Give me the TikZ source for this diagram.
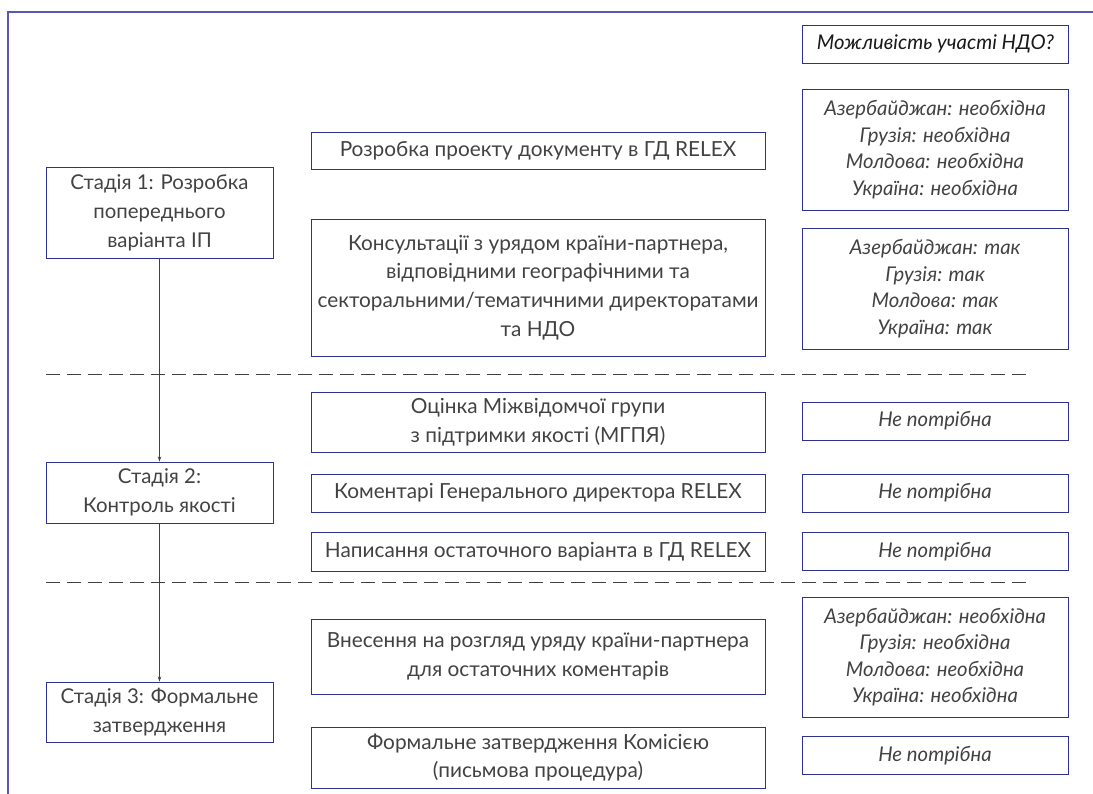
\documentclass[tikz,border=0pt]{standalone}
\usepackage{fontspec}
\setmainfont{Lato}
\usetikzlibrary{arrows.meta,positioning}
\definecolor{boxblue}{RGB}{46,49,146}
\definecolor{framelilac}{RGB}{88,88,178}
\definecolor{textgray}{RGB}{66,66,66}
\definecolor{linegray}{RGB}{64,64,64}

\begin{document}
\begin{tikzpicture}[x=1pt, y=-1pt,
  stagebox/.style={draw=boxblue, line width=0.9pt, inner sep=0pt, minimum width=227, align=center, text=textgray, font=\fontsize{20.4}{29}\selectfont},
  stepbox/.style={draw=boxblue, line width=0.9pt, inner sep=0pt, minimum width=454, align=center, text=textgray, font=\fontsize{20.8}{28.8}\selectfont},
  ngobox/.style={draw=boxblue, line width=0.9pt, inner sep=0pt, minimum width=266, align=center, text=textgray, font=\fontsize{20.3}{26.5}\selectfont\itshape},
  flow/.style={-{Stealth[length=5pt, width=3.5pt]}, line width=0.8pt, draw=linegray},
  stagesep/.style={dashed, dash pattern=on 14pt off 7pt, line width=0.9pt, draw=linegray}]
  \useasboundingbox (0,0) rectangle (1093,794);

  % Frame: top and left edges only
  \draw[framelilac, line width=1.2pt] (8,794) -- (8,12) -- (1093,12);

  % Stages (left column)
  \node (st1) at (159.5, 212.5) [stagebox, minimum height=91] {Стадія 1: Розробка\\попереднього\\варіанта ІП};
  \node (st2) at (159.5, 492.5) [stagebox, minimum height=61] {Стадія 2:\\Контроль якості};
  \node (st3) at (159.5, 712) [stagebox, minimum height=60] {Стадія 3: Формальне\\затвердження};

  \draw[flow] (st1) -- (st2);
  \draw[flow] (st2) -- (st3);

  % Steps (middle column)
  \node (mid1) at (538, 150.5) [stepbox, minimum height=37] {Розробка проекту документу в ГД RELEX};
  \node (mid2) at (538, 287.5) [stepbox, minimum height=137] {Консультації з урядом країни-партнера,\\відповідними географічними та\\секторальними/тематичними директоратами\\та НДО};
  \node (mid3) at (538, 422) [stepbox, minimum height=60] {Оцінка Міжвідомчої групи\\з підтримки якості (МГПЯ)};
  \node (mid4) at (538, 493) [stepbox, minimum height=38] {Коментарі Генерального директора RELEX};
  \node (mid5) at (538, 551.5) [stepbox, minimum height=39] {Написання остаточного варіанта в ГД RELEX};
  \node (mid6) at (538, 656.5) [stepbox, minimum height=75] {Внесення на розгляд уряду країни-партнера\\для остаточних коментарів};
  \node (mid7) at (538, 757.5) [stepbox, minimum height=61] {Формальне затвердження Комісією\\(письмова процедура)};

  % NGO participation (right column)
  \node (ngohead) at (935.5, 44) [ngobox, minimum height=38, text=black!90] {Можливість участі НДО?};
  \node (ngo1) at (935, 149.5) [ngobox, minimum height=121] {Азербайджан: необхідна\\Грузія: необхідна\\Молдова: необхідна\\Україна: необхідна};
  \node (ngo2) at (935, 288.5) [ngobox, minimum height=121] {Азербайджан: так\\Грузія: так\\Молдова: так\\Україна: так};
  \node (ngo4) at (935, 657) [ngobox, minimum height=120] {Азербайджан: необхідна\\Грузія: необхідна\\Молдова: необхідна\\Україна: необхідна};
  \foreach \yy/\nm in {421/a, 493/b, 551.5/c, 755.5/d}
    \node (nr\nm) at (935, \yy) [ngobox, minimum height=38] {Не потрібна};

  % Stage separators
  \foreach \yy in {374, 582}
    \draw[stagesep] (46, \yy) -- (1030, \yy);

\end{tikzpicture}
\end{document}
